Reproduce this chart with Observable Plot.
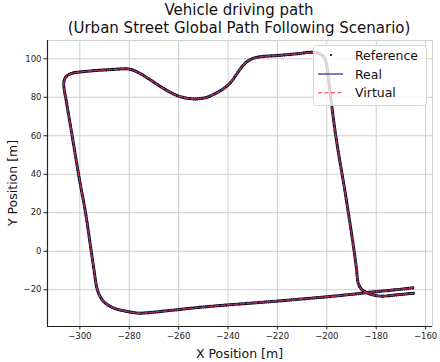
<!DOCTYPE html>
<html><head><meta charset="utf-8">
<script src="https://cdn.jsdelivr.net/npm/d3@7"></script>
<script src="https://cdn.jsdelivr.net/npm/@observablehq/plot@0.6"></script>
<style>
body{margin:0;background:#fff;font-family:"DejaVu Sans",sans-serif;}
#wrap{width:440px;height:362px;position:relative;overflow:hidden;}
#title{height:38px;box-sizing:border-box;padding-top:2px;padding-left:38px;text-align:center;font-size:15px;line-height:17.5px;color:#111;white-space:nowrap;}
#chart svg{display:block;}
</style></head>
<body>
<div id="wrap">
<div id="title">Vehicle driving path<br>(Urban Street Global Path Following Scenario)</div>
<div id="chart"></div>
</div>
<script>
// ---- data ----
const titleLines = ["Vehicle driving path", "(Urban Street Global Path Following Scenario)"];
const xLabel = "X Position [m]";
const yLabel = "Y Position [m]";
const seriesNames = ["Reference", "Real", "Virtual"];
const xTicks = [-300, -280, -260, -240, -220, -200, -180, -160];
const yTicks = [-20, 0, 20, 40, 60, 80, 100];
const xDomain = [-313.1, -157.2];
const yDomain = [-39.1, 109.5];
// driving path (all three series coincide at this scale)
const pathX = [-165.2,-172,-180,-190,-199.4,-210,-220,-232,-243,-252,-260,-268,-273,-275.4,-278.1,-282,-285.5,-288.3,-290.6,-292.2,-293.2,-294.3,-295.4,-297.7,-300.1,-303.1,-305.5,-306.5,-306.2,-305.1,-303.1,-300,-293.6,-286,-281,-278.5,-275.4,-272,-268.6,-264,-260,-256,-252.4,-248.5,-245.7,-242,-238.9,-236.5,-234.8,-232.2,-229.4,-225,-220,-212,-205.8,-203,-201,-200.2,-199.2,-196.3,-192.5,-189,-188,-187.3,-186.2,-184.9,-182.1,-178.1,-171.3,-164.6];
const pathY = [-19.0,-20.0,-21.0,-22.4,-23.6,-24.8,-25.9,-27.1,-28.2,-29.2,-30.3,-31.4,-32.0,-32.2,-31.9,-31.0,-29.9,-28.2,-25.8,-22.5,-18.6,-9.5,0,20,36.8,59.8,78,86,89.3,91.3,92.5,93.1,93.9,94.5,94.8,94.1,92.2,89.5,86.6,83,80.6,79.4,79.2,80,81.6,84.3,87.8,92,95.2,98.6,100.4,101.3,101.7,102.6,103.4,102.6,100.6,97.5,88,59.3,30,0.6,-9,-16.5,-19.3,-20.8,-22.4,-23.3,-22.6,-21.8];

const rows = pathX.map((x, i) => ({x, y: pathY[i]}));
const fmt = d => d < 0 ? "\u2212" + Math.abs(d) : String(d);

const W = 440, H = 324, mT = 2, mB = 36, mL = 47, mR = 8;
const chart = Plot.plot({
  width: W, height: H, marginTop: mT, marginBottom: mB, marginLeft: mL, marginRight: mR,
  style: {fontFamily: "DejaVu Sans, sans-serif", fontSize: "8.5px", color: "#222", background: "#fff", overflow: "visible"},
  x: {domain: xDomain},
  y: {domain: yDomain},
  marks: [
    Plot.gridX(xTicks, {stroke: "#cdcdcd", strokeOpacity: 1, strokeWidth: 1}),
    Plot.gridY(yTicks, {stroke: "#cdcdcd", strokeOpacity: 1, strokeWidth: 1}),
    Plot.frame({stroke: "#d2d2d2", strokeWidth: 1}),
    Plot.ruleY([yDomain[0]], {stroke: "#222", strokeWidth: 1.2}),
    Plot.ruleX([xDomain[0]], {stroke: "#222", strokeWidth: 1.2}),
    Plot.axisX(xTicks, {tickSize: 3.5, tickPadding: 2.5, tickFormat: fmt, label: null}),
    Plot.axisY(yTicks, {tickSize: 3.5, tickPadding: 2.5, tickFormat: fmt, label: null}),
    Plot.line(rows, {x: "x", y: "y", curve: "catmull-rom", stroke: "#000", strokeWidth: 3.2, strokeDasharray: "0.1 2", strokeLinecap: "round"}),
    Plot.line(rows, {x: "x", y: "y", curve: "catmull-rom", stroke: "#2a35b0", strokeWidth: 1.6, strokeOpacity: 0.8}),
    Plot.line(rows, {x: "x", y: "y", curve: "catmull-rom", stroke: "#ff2a2a", strokeWidth: 1.3, strokeOpacity: 0.75, strokeDasharray: "4 2.5"})
  ]
});
document.getElementById("chart").appendChild(chart);

const svg = d3.select(chart);
// axis labels
svg.append("text").attr("x", 239.5).attr("y", 320).attr("text-anchor", "middle")
  .attr("font-size", "12.5px").attr("fill", "#111").text(xLabel);
svg.append("text").attr("transform", "translate(16.5,145) rotate(-90)").attr("text-anchor", "middle")
  .attr("font-size", "12.5px").attr("fill", "#111").text(yLabel);

// legend
const lg = svg.append("g").attr("text-anchor", "start");
lg.append("rect").attr("x", 313.5).attr("y", 7.5).attr("width", 113).attr("height", 60).attr("rx", 3)
  .attr("fill", "#fff").attr("fill-opacity", 0.8).attr("stroke", "#d6d6d6");
const rowsY = [17, 36, 54.7];
lg.append("circle").attr("cx", 331).attr("cy", rowsY[0]).attr("r", 1.1).attr("fill", "#000");
lg.append("line").attr("x1", 318).attr("x2", 343).attr("y1", rowsY[1]).attr("y2", rowsY[1])
  .attr("stroke", "#2a35b0").attr("stroke-opacity", 0.8).attr("stroke-width", 1.6);
lg.append("line").attr("x1", 318).attr("x2", 343).attr("y1", rowsY[2]).attr("y2", rowsY[2])
  .attr("stroke", "#ff2a2a").attr("stroke-opacity", 0.75).attr("stroke-width", 1.3).attr("stroke-dasharray", "4 2.5");
seriesNames.forEach((s, i) => {
  lg.append("text").attr("x", 355).attr("y", rowsY[i] + 4.5).attr("text-anchor", "start")
    .attr("font-size", "12.5px").attr("fill", "#111").text(s);
});
</script>
</body></html>
